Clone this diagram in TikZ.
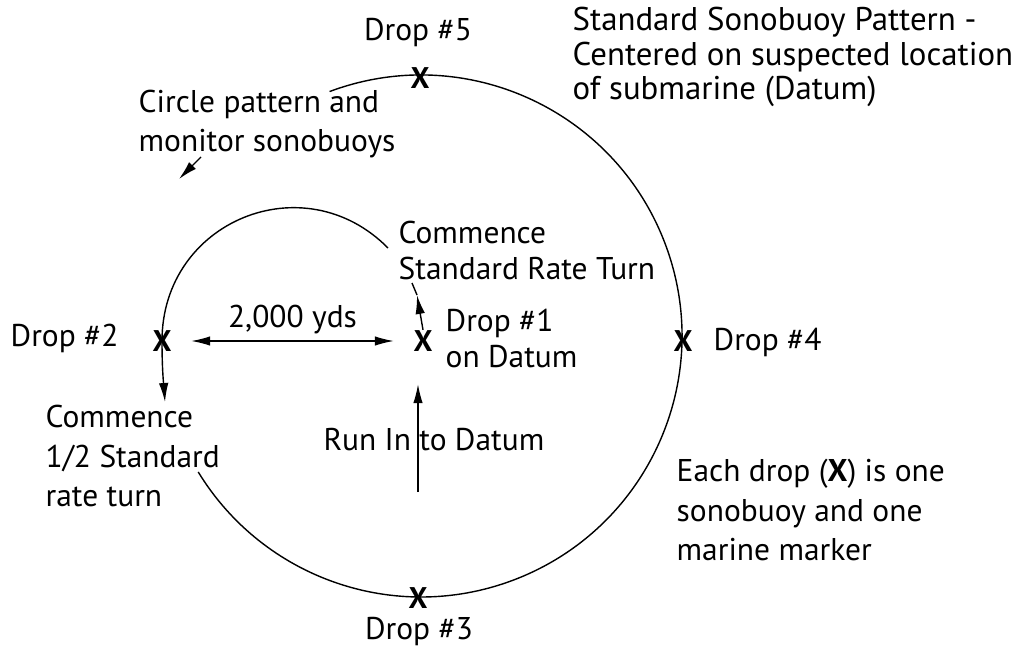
\documentclass[tikz,border=0pt]{standalone}
\usepackage{fontspec}
\setmainfont{PT Sans}
\usepackage{tikz}
\usetikzlibrary{shapes, arrows.meta}

\begin{document}
\begin{tikzpicture}[x=0.02cm, y=0.02cm, line width=0.8pt,
		>={Latex[length=0.38cm, width=0.19cm]},
		drop/.style={inner sep=0pt, font=\fontsize{17}{17}\selectfont\bfseries},
		lbl/.style={inner sep=0pt, align=left, font=\fontsize{17.9}{22.5}\selectfont}]
		\useasboundingbox (0,0) rectangle (1024,-669);
		% drop points
		\node at (423,-341) [drop] (d1) {X};
		\node at (162,-341) [drop] (d2) {X};
		\node at (418,-598) [drop] (d3) {X};
		\node at (683,-341) [drop] (d4) {X};
		\node at (420,-78) [drop] (d5) {X};
		% outer pattern
		\coordinate (datum) at (421,-336);
		\draw ([shift={(110.5:261)}]datum) arc[start angle=110.5, end angle=-148.6, radius=261];
		% inner turn
		\draw[->] (388,-248) .. controls (304,-163) and (162,-221) .. (d2.center) .. controls (162,-372) and (164,-388) .. (165,-402);
		\draw[<->, shorten <=0.38cm, shorten >=0.38cm] (d2.east) -- (d1.west) node[above=0.12cm, midway, lbl] {2,000 yds};
		\coordinate (runstart) at (418,-492);
		\draw[->, shorten >=0.64cm] (runstart) -- (runstart |- d1.south);
		\coordinate (turntip) at (417,-295);
		\coordinate (turnend) at (412,-283);
		\draw[->] (d1.north) -- (turntip);
		\draw (turntip) -- (turnend);
		\coordinate (circstart) at (201,-157);
		\coordinate (circend) at (179,-179);
		\draw[->] (circstart) -- (circend);
		% labels
		\node at (418,-33) [lbl] {Drop \#5};
		\node at (10,-338) [lbl, anchor=west] {Drop \#2};
		\node at (713,-342) [lbl, anchor=west] {Drop \#4};
		\node at (419,-632) [lbl] {Drop \#3};
		\node at (445,-338) [lbl, anchor=west, font=\fontsize{17.9}{20.5}\selectfont] {Drop \#1\\on Datum};
		\node at (434,-440) [lbl] {Run In to Datum};
		\node at (572,-57) [lbl, anchor=west, font=\fontsize{18.7}{19.5}\selectfont] {Standard Sonobuoy Pattern -\\Centered on suspected location\\of submarine (Datum)};
		\node at (138,-124) [lbl, anchor=west] (circ) {Circle pattern and\\monitor sonobuoys};
		\node at (398,-250) [lbl, anchor=west, font=\fontsize{17.9}{20.5}\selectfont] {Commence\\Standard Rate Turn};
		\node at (45,-456) [lbl, anchor=west] {Commence\\1/2 Standard\\rate turn};
		\node at (676,-510) [lbl, anchor=west] {Each drop (\textbf{X}) is one\\sonobuoy and one\\marine marker};
	\end{tikzpicture}
\end{document}
